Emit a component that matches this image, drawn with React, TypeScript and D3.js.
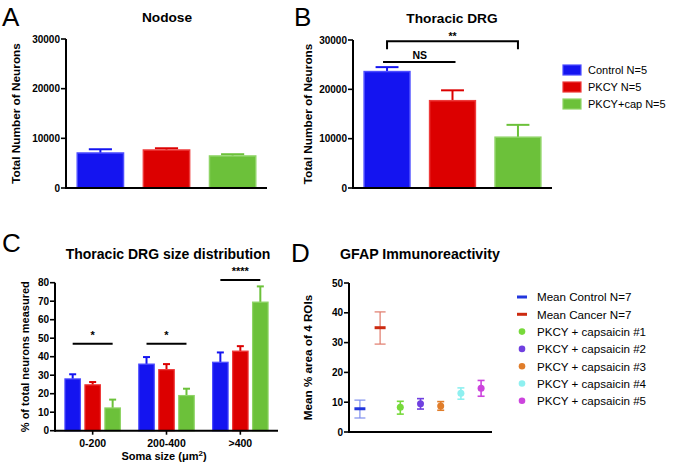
import React from 'react';
import * as d3 from 'd3';

// groups shared by A, B, C
const groups = ['Control', 'PKCY', 'PKCY+cap'];
const groupLegend = ['Control N=5', 'PKCY N=5', 'PKCY+cap N=5'];
const groupFill = ['#1414f0', '#dc0000', '#6cc13a'];
const groupEdge = ['#4d4dff', '#ee3a3a', '#8fd466'];

// A: Nodose
const nodoseMean = [7050, 7650, 6450];
const nodoseErr = [750, 350, 350];

// B: Thoracic DRG
const drgMean = [23600, 17700, 10300];
const drgErr = [900, 2100, 2500];

// C: size distribution
const sizeBins = ['0-200', '200-400', '>400'];
const sizeMean = [
  [28, 24.8, 12.3],
  [36, 33, 19],
  [37, 43, 69.5],
];
const sizeErr = [
  [2.5, 1.5, 4.5],
  [3.8, 3, 3.7],
  [5.3, 2.7, 8.5],
];
const sizeSig = ['*', '*', '****'];
const sizeSigLevel = [47, 47, 81.5];

// D: GFAP
const gfapNames = [
  'Mean Control N=7',
  'Mean Cancer N=7',
  'PKCY + capsaicin #1',
  'PKCY + capsaicin #2',
  'PKCY + capsaicin #3',
  'PKCY + capsaicin #4',
  'PKCY + capsaicin #5',
];
const gfapMean = [7.8, 35, 8.3, 9.5, 8.7, 13, 14.7];
const gfapLow = [4.7, 29.5, 6, 7.7, 7.3, 11, 12];
const gfapHigh = [10.7, 40.3, 10.3, 11.2, 10.2, 14.8, 17.3];
const gfapColor = ['#2236dd', '#cc2a10', '#77d93a', '#7040e0', '#e07d2a', '#8ef0f0', '#cc44dd'];
const gfapErrColor = ['#7f8fee', '#e07a6a', '#77d93a', '#7040e0', '#e07d2a', '#8ef0f0', '#cc44dd'];

const FONT = 'Liberation Sans, Arial, Helvetica, sans-serif';

const YAxis = ({ y, x, ticks }: any) => (
  <g>
    <line x1={x} x2={x} y1={y.range()[0] + 1} y2={y.range()[1]} stroke="#000" strokeWidth={2} />
    {ticks.map((t: number) => (
      <g key={t}>
        <line x1={x - 5} x2={x} y1={y(t)} y2={y(t)} stroke="#000" strokeWidth={1.6} />
        <text x={x - 6} y={y(t) + 3.5} textAnchor="end" fontSize={10} fontWeight="bold">{t}</text>
      </g>
    ))}
  </g>
);

const SimpleBars = ({ letter, lx, title, tx, ty, x0, x1, yTop, mean, err, labelX, sig }: any) => {
  const x = d3.scaleBand().domain(groups).range([x0, x1]).paddingInner(0.3).paddingOuter(0.17);
  const y = d3.scaleLinear().domain([0, 30000]).range([188, yTop]);
  const bw = x.bandwidth();
  const cx = (g: string) => (x(g) as number) + bw / 2;
  return (
    <g>
      <text x={lx} y={26} fontSize={26}>{letter}</text>
      <text x={tx} y={ty} textAnchor="middle" fontSize={13.7} fontWeight="bold">{title}</text>
      <text transform={`translate(${labelX},${(y(0) + y(30000)) / 2}) rotate(-90)`} textAnchor="middle" fontSize={11.8} fontWeight="bold">
        Total Number of Neurons
      </text>
      {groups.map((g, i) => (
        <g key={g}>
          <line x1={cx(g)} x2={cx(g)} y1={y(mean[i])} y2={y(mean[i] + err[i])} stroke={groupFill[i]} strokeWidth={2} />
          <line x1={cx(g) - bw / 4} x2={cx(g) + bw / 4} y1={y(mean[i] + err[i])} y2={y(mean[i] + err[i])} stroke={groupFill[i]} strokeWidth={2} />
          <rect x={x(g)} y={y(mean[i])} width={bw} height={y(0) - y(mean[i])} fill={groupFill[i]} stroke={groupEdge[i]} strokeWidth={1.5} />
        </g>
      ))}
      <line x1={x0} x2={x1} y1={y(0)} y2={y(0)} stroke="#000" strokeWidth={2} />
      <YAxis y={y} x={x0} ticks={[0, 10000, 20000, 30000]} />
      {sig && (
        <g stroke="#000" strokeWidth={2} fill="none">
          <path d={`M${cx(groups[0])},${y(sig.bracket) + 8}V${y(sig.bracket)}H${cx(groups[2])}V${y(sig.bracket) + 8}`} />
          <line x1={cx(groups[0]) - 4} x2={cx(groups[1]) + 3} y1={y(sig.ns)} y2={y(sig.ns)} />
        </g>
      )}
      {sig && (
        <g fontSize={10.5} fontWeight="bold" textAnchor="middle">
          <text x={(cx(groups[0]) + cx(groups[2])) / 2} y={y(sig.bracket) - 1}>**</text>
          <text x={(cx(groups[0]) + cx(groups[1])) / 2} y={y(sig.ns) - 3}>NS</text>
        </g>
      )}
    </g>
  );
};

const SizePanel = () => {
  const x = d3.scaleBand().domain(sizeBins).range([55, 278]).paddingInner(0).paddingOuter(0.01);
  const xi = d3.scaleBand().domain(groups).range([0, x.bandwidth()]).paddingInner(0.225).paddingOuter(0.46);
  const y = d3.scaleLinear().domain([0, 80]).range([430.7, 282.7]);
  const bw = xi.bandwidth();
  return (
    <g>
      <text x={2} y={252} fontSize={26}>C</text>
      <text x={168} y={259} textAnchor="middle" fontSize={14} fontWeight="bold">Thoracic DRG size distribution</text>
      <text transform={`translate(29,${(y(0) + y(80)) / 2}) rotate(-90)`} textAnchor="middle" fontSize={11} fontWeight="bold">
        % of total neurons measured
      </text>
      {sizeBins.map((b, j) => {
        const gx = x(b) as number;
        const c = (i: number) => gx + (xi(groups[i]) as number) + bw / 2;
        return (
          <g key={b}>
            {groups.map((g, i) => {
              const m = sizeMean[j][i];
              const e = sizeErr[j][i];
              return (
                <g key={g}>
                  <line x1={c(i)} x2={c(i)} y1={y(m)} y2={y(m + e)} stroke={groupFill[i]} strokeWidth={2} />
                  <line x1={c(i) - 3.5} x2={c(i) + 3.5} y1={y(m + e)} y2={y(m + e)} stroke={groupFill[i]} strokeWidth={2} />
                  <rect x={gx + (xi(g) as number)} y={y(m)} width={bw} height={y(0) - y(m)} fill={groupFill[i]} stroke={groupEdge[i]} strokeWidth={1.2} />
                </g>
              );
            })}
            <line x1={c(0)} x2={c(2)} y1={y(sizeSigLevel[j])} y2={y(sizeSigLevel[j])} stroke="#000" strokeWidth={2} />
            <text x={(c(0) + c(2)) / 2} y={y(sizeSigLevel[j]) - 5} textAnchor="middle" fontSize={11} fontWeight="bold">{sizeSig[j]}</text>
            <line x1={gx + x.bandwidth() / 2} x2={gx + x.bandwidth() / 2} y1={y(0)} y2={y(0) + 4} stroke="#000" strokeWidth={1.6} />
            <text x={gx + x.bandwidth() / 2} y={447} textAnchor="middle" fontSize={10.5} fontWeight="bold">{b}</text>
          </g>
        );
      })}
      <line x1={55} x2={278} y1={y(0)} y2={y(0)} stroke="#000" strokeWidth={2} />
      <YAxis y={y} x={55} ticks={d3.range(0, 81, 10)} />
      <text x={164} y={460} textAnchor="middle" fontSize={11} fontWeight="bold">
        Soma size (μm<tspan dy={-4} fontSize={8}>2</tspan><tspan dy={4}>)</tspan>
      </text>
    </g>
  );
};

const GfapPanel = () => {
  const x = d3.scalePoint().domain(gfapNames).range([349, 492]).padding(0.54);
  const y = d3.scaleLinear().domain([0, 50]).range([432, 283]);
  return (
    <g>
      <text x={291} y={262} fontSize={26}>D</text>
      <text x={340} y={259} fontSize={14.2} fontWeight="bold">GFAP Immunoreactivity</text>
      <text transform={`translate(312,${(y(0) + y(50)) / 2}) rotate(-90)`} textAnchor="middle" fontSize={11.7} fontWeight="bold">
        Mean % area of 4 ROIs
      </text>
      {gfapNames.map((n, i) => {
        const cx = x(n) as number;
        const cap = i < 2 ? 5.5 : 3.5;
        return (
          <g key={n}>
            <g stroke={gfapErrColor[i]} strokeWidth={i < 2 ? 1.2 : 1.6}>
              <line x1={cx} x2={cx} y1={y(gfapLow[i])} y2={y(gfapHigh[i])} />
              <line x1={cx - cap} x2={cx + cap} y1={y(gfapLow[i])} y2={y(gfapLow[i])} />
              <line x1={cx - cap} x2={cx + cap} y1={y(gfapHigh[i])} y2={y(gfapHigh[i])} />
            </g>
            {i < 2 ? (
              <line x1={cx - 5.5} x2={cx + 5.5} y1={y(gfapMean[i])} y2={y(gfapMean[i])} stroke={gfapColor[i]} strokeWidth={3} />
            ) : (
              <circle cx={cx} cy={y(gfapMean[i])} r={3.5} fill={gfapColor[i]} />
            )}
          </g>
        );
      })}
      <line x1={349} x2={492} y1={y(0)} y2={y(0)} stroke="#000" strokeWidth={2} />
      <YAxis y={y} x={349} ticks={d3.range(0, 51, 10)} />
      {gfapNames.map((n, i) => {
        const ly = 297 + i * 17.3;
        return (
          <g key={n}>
            {i < 2 ? (
              <line x1={517} x2={527} y1={ly} y2={ly} stroke={gfapColor[i]} strokeWidth={3} />
            ) : (
              <circle cx={522} cy={ly} r={3.3} fill={gfapColor[i]} />
            )}
            <text x={537} y={ly + 4.3} fontSize={11.6}>{n}</text>
          </g>
        );
      })}
    </g>
  );
};

const App = () => (
  <svg width={676} height={471} style={{ position: 'absolute', left: 0, top: 0, background: '#fff' }} fontFamily={FONT}>
    <SimpleBars letter="A" lx={2} title="Nodose" tx={167} ty={21.5} x0={66} x1={267} yTop={39} mean={nodoseMean} err={nodoseErr} labelX={19.5} />
    <SimpleBars
      letter="B" lx={294} title="Thoracic DRG" tx={452} ty={23} x0={353} x1={552} yTop={40}
      mean={drgMean} err={drgErr} labelX={311.5} sig={{ bracket: 29740, ns: 25540 }}
    />
    {groupLegend.map((g, i) => (
      <g key={g}>
        <rect x={563} y={65 + i * 17} width={18} height={10} fill={groupFill[i]} stroke={groupEdge[i]} strokeWidth={1.2} />
        <text x={588} y={74 + i * 17} fontSize={11}>{g}</text>
      </g>
    ))}
    <SizePanel />
    <GfapPanel />
  </svg>
);

export default App;
